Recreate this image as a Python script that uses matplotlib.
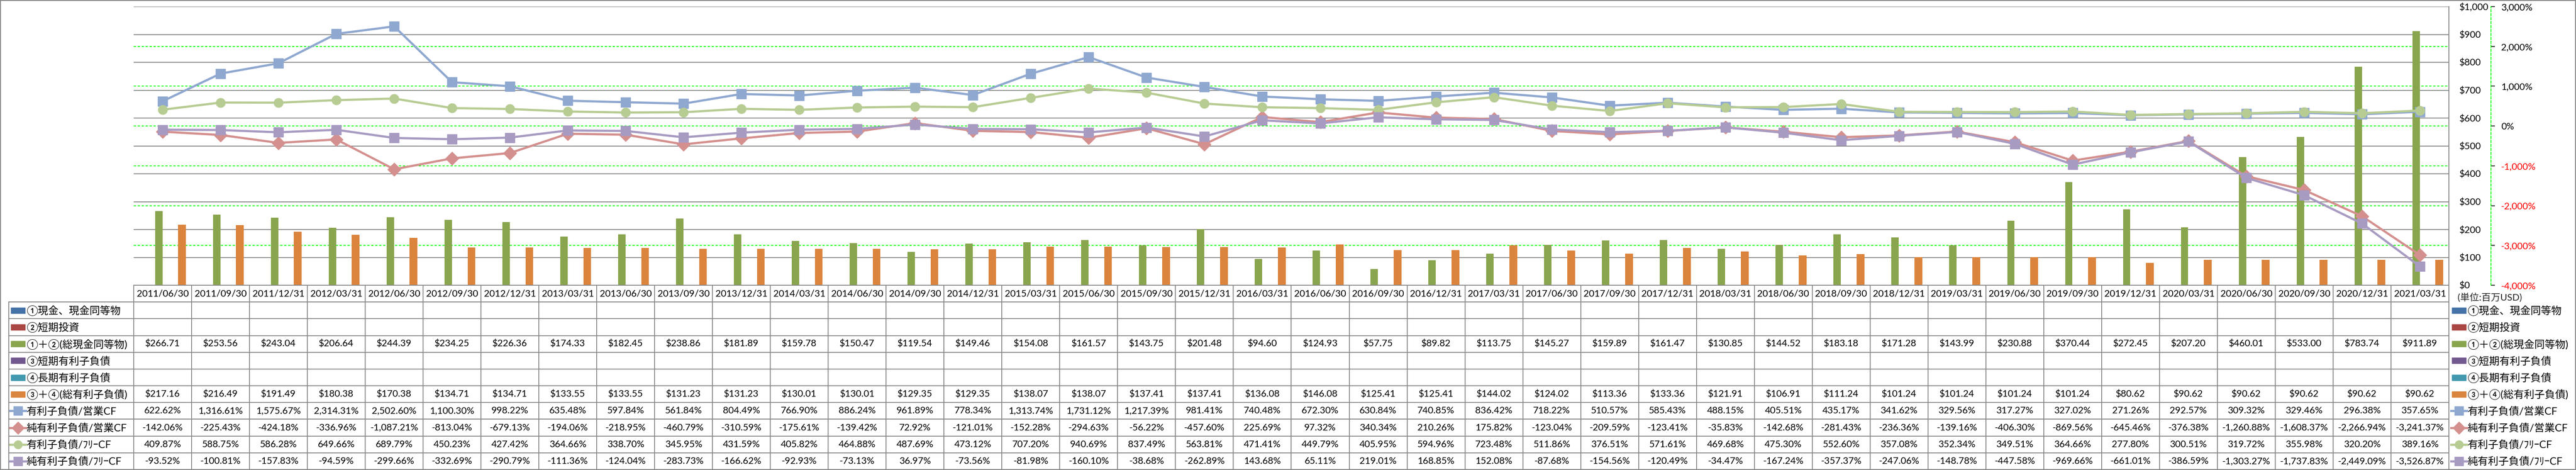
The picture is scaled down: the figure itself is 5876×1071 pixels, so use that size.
import numpy as np
import matplotlib.pyplot as plt
from matplotlib.lines import Line2D
from matplotlib.patches import Rectangle

plt.rcParams["font.family"] = ["Lato", "Noto Sans CJK JP", "DejaVu Sans"]
plt.rcParams["ytick.labelcolor"] = "black"


# Quarter-end dates shown in the table header.
DATES = [
    "2011/06/30", "2011/09/30", "2011/12/31",
    "2012/03/31", "2012/06/30", "2012/09/30", "2012/12/31",
    "2013/03/31", "2013/06/30", "2013/09/30", "2013/12/31",
    "2014/03/31", "2014/06/30", "2014/09/30", "2014/12/31",
    "2015/03/31", "2015/06/30", "2015/09/30", "2015/12/31",
    "2016/03/31", "2016/06/30", "2016/09/30", "2016/12/31",
    "2017/03/31", "2017/06/30", "2017/09/30", "2017/12/31",
    "2018/03/31", "2018/06/30", "2018/09/30", "2018/12/31",
    "2019/03/31", "2019/06/30", "2019/09/30", "2019/12/31",
    "2020/03/31", "2020/06/30", "2020/09/30", "2020/12/31",
    "2021/03/31",
]

# Bars (million USD).
TOTAL_CASH = [
    266.71, 253.56, 243.04, 206.64, 244.39, 234.25, 226.36, 174.33, 182.45, 238.86,
    181.89, 159.78, 150.47, 119.54, 149.46, 154.08, 161.57, 143.75, 201.48, 94.60,
    124.93, 57.75, 89.82, 113.75, 145.27, 159.89, 161.47, 130.85, 144.52, 183.18,
    171.28, 143.99, 230.88, 370.44, 272.45, 207.20, 460.01, 533.00, 783.74, 911.89,
]
TOTAL_DEBT = [
    217.16, 216.49, 191.49, 180.38, 170.38, 134.71, 134.71, 133.55, 133.55, 131.23,
    131.23, 130.01, 130.01, 129.35, 129.35, 138.07, 138.07, 137.41, 137.41, 136.08,
    146.08, 125.41, 125.41, 144.02, 124.02, 113.36, 133.36, 121.91, 106.91, 111.24,
    101.24, 101.24, 101.24, 101.24, 80.62, 90.62, 90.62, 90.62, 90.62, 90.62,
]

# Lines (percent).
DEBT_OCF = [
    622.62, 1316.61, 1575.67, 2314.31, 2502.60, 1100.30, 998.22, 635.48, 597.84, 561.84,
    804.49, 766.90, 886.24, 961.89, 778.34, 1313.74, 1731.12, 1217.39, 981.41, 740.48,
    672.30, 630.84, 740.85, 836.42, 718.22, 510.57, 585.43, 488.15, 405.51, 435.17,
    341.62, 329.56, 317.27, 327.02, 271.26, 292.57, 309.32, 329.46, 296.38, 357.65,
]
NET_DEBT_OCF = [
    -142.06, -225.43, -424.18, -336.96, -1087.21, -813.04, -679.13, -194.06, -218.95, -460.79,
    -310.59, -175.61, -139.42, 72.92, -121.01, -152.28, -294.63, -56.22, -457.60, 225.69,
    97.32, 340.34, 210.26, 175.82, -123.04, -209.59, -123.41, -35.83, -142.68, -281.43,
    -236.36, -139.16, -406.30, -869.56, -645.46, -376.38, -1260.88, -1608.37, -2266.94, -3241.37,
]
DEBT_FCF = [
    409.87, 588.75, 586.28, 649.66, 689.79, 450.23, 427.42, 364.66, 338.70, 345.95,
    431.59, 405.82, 464.88, 487.69, 473.12, 707.20, 940.69, 837.49, 563.81, 471.41,
    449.79, 405.95, 594.96, 723.48, 511.86, 376.51, 571.61, 469.68, 475.30, 552.60,
    357.08, 352.34, 349.51, 364.66, 277.80, 300.51, 319.72, 355.98, 320.20, 389.16,
]
NET_DEBT_FCF = [
    -93.52, -100.81, -157.83, -94.59, -299.66, -332.69, -290.79, -111.36, -124.04, -283.73,
    -166.62, -92.93, -73.13, 36.97, -73.56, -81.98, -160.10, -38.68, -262.89, 143.68,
    65.11, 219.01, 168.85, 152.08, -87.68, -154.56, -120.49, -34.47, -167.24, -357.37,
    -247.06, -148.78, -447.58, -969.66, -661.01, -386.59, -1303.27, -1737.83, -2449.09, -3526.87,
]

SERIES_NAMES = [
    "①現金、現金同等物",
    "②短期投資",
    "①＋②(総現金同等物)",
    "③短期有利子負債",
    "④長期有利子負債",
    "③＋④(総有利子負債)",
    "有利子負債/営業CF",
    "純有利子負債/営業CF",
    "有利子負債/ﾌﾘｰCF",
    "純有利子負債/ﾌﾘｰCF",
]
USD_TICKS = list(range(0, 1001, 100))
PCT_TICKS = list(range(-4000, 3001, 1000))
UNIT_NOTE = "(単位:百万USD)"


# Styles for each legend row: (kind, colour, marker).
ROW_STYLES = [
    ("bar", "#4572A7", None),
    ("bar", "#AA4643", None),
    ("bar", "#89A54E", None),
    ("bar", "#71588F", None),
    ("bar", "#4198AF", None),
    ("bar", "#DB843D", None),
    ("line", "#8FA8D0", "s"),
    ("line", "#D4908E", "D"),
    ("line", "#B7CC93", "o"),
    ("line", "#A89BC2", "s"),
]
MARKER_SIZES = {"s": 15.5, "D": 15.5, "o": 15.0}

GRID_GRAY = "#878787"
GRID_GREEN = "#00FF00"

# Layout in pixels of the final image.
W, H = 5876, 1071
PLOT_LEFT, PLOT_RIGHT = 305, 5586
PLOT_TOP, PLOT_BOTTOM = 15, 650
TABLE_LEFT, TABLE_BOTTOM = 20, 1070
LEGEND_LEFT = 5591
PCT_SPINE_OFFSET_PX = 96
NUM_SIZE = 15.5
LABEL_SIZE = 17


def usd_label(v):
    return f"${v:,.0f}"


def pct_label(v):
    return f"{v:,.0f}%"


def main():
    n = len(DATES)
    x = np.arange(n)
    fig = plt.figure(figsize=(W / 100, H / 100), dpi=100)
    fig.patch.set_facecolor("white")

    # Base axis: percent scale, green dashed grid and the outer percent spine.
    ax = fig.add_axes([
        PLOT_LEFT / W, 1 - PLOT_BOTTOM / H,
        (PLOT_RIGHT - PLOT_LEFT) / W, (PLOT_BOTTOM - PLOT_TOP) / H,
    ])
    ax_usd = ax.twinx()
    ax_line = ax.twinx()

    ax.set_xlim(-0.5, n - 0.5)
    ax.set_ylim(PCT_TICKS[0], PCT_TICKS[-1])
    ax.yaxis.tick_right()
    ax.set_yticks(PCT_TICKS, labels=[pct_label(v) for v in PCT_TICKS])
    ax.set_xticks([])
    ax.grid(axis="y", color=GRID_GREEN, linestyle=(0, (3, 2)), linewidth=1.3)
    for side in ["left", "top", "bottom"]:
        ax.spines[side].set_visible(False)
    ax.spines["right"].set_position(("outward", PCT_SPINE_OFFSET_PX * 0.72))
    ax.spines["right"].set_color(GRID_GREEN)
    ax.spines["right"].set_linestyle((0, (3, 2)))
    ax.spines["right"].set_linewidth(1.3)
    ax.tick_params(axis="y", length=6.5, width=1.2, pad=10, labelsize=NUM_SIZE)

    # Dollar axis: bars and gray grid.
    ax_usd.set_ylim(USD_TICKS[0], USD_TICKS[-1])
    ax_usd.set_yticks(USD_TICKS, labels=[usd_label(v) for v in USD_TICKS])
    ax_usd.set_axisbelow(True)
    ax_usd.grid(axis="y", color=GRID_GRAY, linewidth=1.4)
    for side in ["left", "top", "bottom"]:
        ax_usd.spines[side].set_visible(False)
    ax_usd.spines["right"].set_color(GRID_GRAY)
    ax_usd.spines["right"].set_linewidth(1.4)
    ax_usd.tick_params(axis="y", length=0, pad=17, labelsize=NUM_SIZE)
    ax_usd.set_xticks([])

    slot = 0.134
    ax_usd.bar(x + (2 - 2.5) * slot, TOTAL_CASH, width=0.128, color=ROW_STYLES[2][1], zorder=2)
    ax_usd.bar(x + (5 - 2.5) * slot, TOTAL_DEBT, width=0.134, color=ROW_STYLES[5][1], zorder=2)

    # Ratio lines on top.
    ax_line.set_ylim(PCT_TICKS[0], PCT_TICKS[-1])
    ax_line.yaxis.set_visible(False)
    for spine in ax_line.spines.values():
        spine.set_visible(False)
    ax_line.set_xticks([])
    for values, (_, color, marker) in zip(
        [DEBT_OCF, NET_DEBT_OCF, DEBT_FCF, NET_DEBT_FCF], ROW_STYLES[6:]
    ):
        ax_line.plot(x, values, color=color, linewidth=3.6, marker=marker,
                     markersize=MARKER_SIZES[marker], markerfacecolor=color,
                     markeredgecolor=color, solid_joinstyle="round")

    ax.yaxis.tick_right()
    # Green tick stubs; negative percentages are shown in red.
    for tick, value in zip(ax.yaxis.get_major_ticks(), PCT_TICKS):
        tick.tick2line.set_color(GRID_GREEN)
        tick.label2.set_color("#FF0000" if value < 0 else "black")

    # Overlay in pixel units for the data table and the side legend.
    tab = fig.add_axes([0, 0, 1, 1], zorder=5)
    tab.set_xlim(0, W)
    tab.set_ylim(H, 0)
    tab.set_axis_off()
    tab.patch.set_alpha(0)

    col_w = (PLOT_RIGHT - PLOT_LEFT) / n
    row_h = (TABLE_BOTTOM - PLOT_BOTTOM) / (len(SERIES_NAMES) + 1)
    line_kw = dict(color=GRID_GRAY, linewidth=1.4)

    for j in range(len(SERIES_NAMES) + 2):
        y = PLOT_BOTTOM + j * row_h
        left = PLOT_LEFT if j == 0 else TABLE_LEFT
        tab.plot([left, PLOT_RIGHT], [y, y], **line_kw)
    tab.plot([TABLE_LEFT, TABLE_LEFT], [PLOT_BOTTOM + row_h, TABLE_BOTTOM], **line_kw)
    for i in range(n + 1):
        xe = PLOT_LEFT + i * col_w
        tab.plot([xe, xe], [PLOT_BOTTOM, TABLE_BOTTOM], **line_kw)

    cell_values = {
        2: [f"${v:,.2f}" for v in TOTAL_CASH],
        5: [f"${v:,.2f}" for v in TOTAL_DEBT],
        6: [f"{v:,.2f}%" for v in DEBT_OCF],
        7: [f"{v:,.2f}%" for v in NET_DEBT_OCF],
        8: [f"{v:,.2f}%" for v in DEBT_FCF],
        9: [f"{v:,.2f}%" for v in NET_DEBT_FCF],
    }

    for i, date in enumerate(DATES):
        cx = PLOT_LEFT + (i + 0.5) * col_w
        tab.text(cx, PLOT_BOTTOM + 0.5 * row_h, date, ha="center", va="center",
                 fontsize=NUM_SIZE)
        for r, texts in cell_values.items():
            tab.text(cx, PLOT_BOTTOM + (r + 1.5) * row_h, texts[i], ha="center",
                     va="center", fontsize=NUM_SIZE)

    # Row labels (left) and legend (right) share the same icons.
    def draw_entry(x0, yc, name, style):
        kind, color, marker = style
        if kind == "bar":
            tab.add_patch(Rectangle((x0 + 2, yc - 6.5), 32, 13, color=color))
        else:
            tab.add_line(Line2D([x0, x0 + 36], [yc, yc], color=color, linewidth=3.6))
            tab.add_line(Line2D([x0 + 18], [yc], marker=marker, color=color,
                                markersize=MARKER_SIZES[marker] * 0.9,
                                markeredgecolor=color))
        tab.text(x0 + 37, yc + 1, name, ha="left", va="center", fontsize=LABEL_SIZE)

    for r, (name, style) in enumerate(zip(SERIES_NAMES, ROW_STYLES)):
        yc = PLOT_BOTTOM + (r + 1.5) * row_h
        draw_entry(TABLE_LEFT + 3, yc, name, style)
        draw_entry(LEGEND_LEFT, yc, name, style)

    tab.text(5606, PLOT_BOTTOM + 0.75 * row_h, UNIT_NOTE, ha="left", va="center",
             fontsize=15.5, color="#222222")

    tab.add_patch(Rectangle((1, 1), W - 2, H - 2, fill=False, edgecolor=GRID_GRAY,
                            linewidth=1.6, clip_on=False))

    fig.savefig("out.png", dpi=100, facecolor="white")
    plt.close(fig)


if __name__ == "__main__":
    main()
